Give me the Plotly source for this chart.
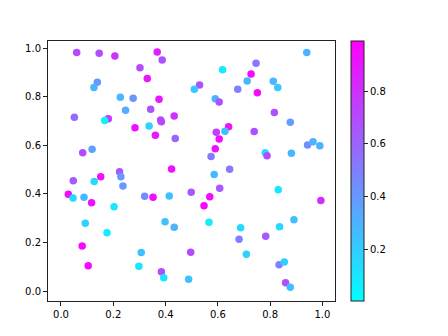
import plotly.graph_objects as go

x = [0.060, 0.146, 0.206, 0.368, 0.387, 0.302, 0.330, 0.139, 0.126, 0.530,
     0.510, 0.227, 0.276, 0.375, 0.247, 0.343, 0.051, 0.181, 0.167, 0.381,
     0.384, 0.433, 0.283, 0.337, 0.361, 0.437, 0.083, 0.119, 0.224, 0.229,
     0.423, 0.940, 0.746, 0.618, 0.727, 0.712, 0.812, 0.829, 0.676, 0.751,
     0.590, 0.605, 0.816, 0.877, 0.641, 0.594, 0.627, 0.605, 0.739, 0.590,
     0.943, 0.964, 0.990, 0.574, 0.781, 0.788, 0.881, 0.645, 0.047, 0.127,
     0.152, 0.237, 0.028, 0.046, 0.088, 0.117, 0.320, 0.352, 0.414, 0.498,
     0.203, 0.093, 0.398, 0.433, 0.176, 0.081, 0.307, 0.496, 0.104, 0.298,
     0.384, 0.393, 0.488, 0.586, 0.607, 0.569, 0.547, 0.831, 0.994, 0.566,
     0.687, 0.891, 0.836, 0.681, 0.783, 0.709, 0.834, 0.854, 0.859, 0.877]
y = [0.982, 0.979, 0.967, 0.984, 0.951, 0.919, 0.875, 0.859, 0.838, 0.848,
     0.830, 0.797, 0.793, 0.789, 0.744, 0.748, 0.715, 0.709, 0.702, 0.704,
     0.697, 0.720, 0.672, 0.679, 0.641, 0.628, 0.569, 0.583, 0.491, 0.470,
     0.502, 0.982, 0.937, 0.911, 0.893, 0.864, 0.863, 0.838, 0.830, 0.816,
     0.791, 0.778, 0.735, 0.695, 0.676, 0.653, 0.658, 0.626, 0.657, 0.586,
     0.601, 0.614, 0.598, 0.554, 0.569, 0.557, 0.567, 0.501, 0.454, 0.451,
     0.470, 0.432, 0.398, 0.383, 0.386, 0.363, 0.390, 0.386, 0.391, 0.407,
     0.347, 0.279, 0.285, 0.262, 0.240, 0.185, 0.159, 0.160, 0.104, 0.102,
     0.079, 0.055, 0.048, 0.480, 0.423, 0.388, 0.351, 0.417, 0.373, 0.283,
     0.260, 0.293, 0.265, 0.213, 0.225, 0.151, 0.108, 0.119, 0.034, 0.016]
c = [0.70, 0.68, 0.80, 0.87, 0.68, 0.70, 0.90, 0.40, 0.30, 0.68,
     0.22, 0.28, 0.42, 0.90, 0.32, 0.68, 0.58, 0.78, 0.05, 0.68,
     0.72, 0.80, 0.93, 0.18, 0.90, 0.60, 0.70, 0.38, 0.65, 0.40,
     0.92, 0.30, 0.52, 0.08, 0.95, 0.28, 0.28, 0.22, 0.50, 0.95,
     0.30, 0.68, 0.68, 0.38, 0.92, 0.75, 0.25, 0.95, 0.68, 0.93,
     0.45, 0.30, 0.30, 0.52, 0.12, 0.70, 0.28, 0.52, 0.65, 0.15,
     0.93, 0.40, 0.95, 0.15, 0.28, 0.92, 0.45, 0.95, 0.25, 0.65,
     0.10, 0.18, 0.25, 0.30, 0.08, 0.95, 0.25, 0.70, 0.95, 0.10,
     0.70, 0.10, 0.25, 0.28, 0.65, 0.95, 0.95, 0.10, 0.82, 0.08,
     0.15, 0.25, 0.15, 0.50, 0.65, 0.18, 0.50, 0.20, 0.68, 0.25]

x_ticks = [0.0, 0.2, 0.4, 0.6, 0.8, 1.0]
y_ticks = [0.0, 0.2, 0.4, 0.6, 0.8, 1.0]
cb_ticks = [0.2, 0.4, 0.6, 0.8]

fig = go.Figure(go.Scatter(
    x=x, y=y, mode="markers",
    marker=dict(
        size=7.5, color=c, cmin=0.005, cmax=0.99,
        colorscale=[[0, "rgb(0,255,255)"], [1, "rgb(255,0,255)"]],
        line=dict(width=0),
        colorbar=dict(
            x=1.056, xanchor="left", xpad=0, ypad=0,
            y=0.5, yanchor="middle", lenmode="pixels", len=260,
            thickness=13, outlinewidth=1, outlinecolor="#222",
            tickvals=cb_ticks, ticktext=[f"{v:.1f}" for v in cb_ticks],
            ticks="outside", ticklen=4, tickcolor="#222",
            tickfont=dict(size=10, color="black"),
        ),
    ),
    showlegend=False,
))

axis_common = dict(
    showgrid=False, zeroline=False, showline=True, linecolor="#222",
    linewidth=1, mirror=True, ticks="outside", ticklen=4, tickcolor="#222",
    tickfont=dict(size=10, color="black"),
)
fig.update_xaxes(range=[-0.0497, 1.048], tickvals=x_ticks,
                 ticktext=[f"{v:.1f}" for v in x_ticks], **axis_common)
fig.update_yaxes(range=[-0.041, 1.029], tickvals=y_ticks,
                 ticktext=[f"{v:.1f}" for v in y_ticks], **axis_common)

fig.update_layout(
    width=448, height=336,
    margin=dict(l=48, r=113, t=41, b=35),
    paper_bgcolor="white", plot_bgcolor="white",
    font=dict(family="DejaVu Sans", size=10, color="black"),
)

fig.write_html("out.html")
